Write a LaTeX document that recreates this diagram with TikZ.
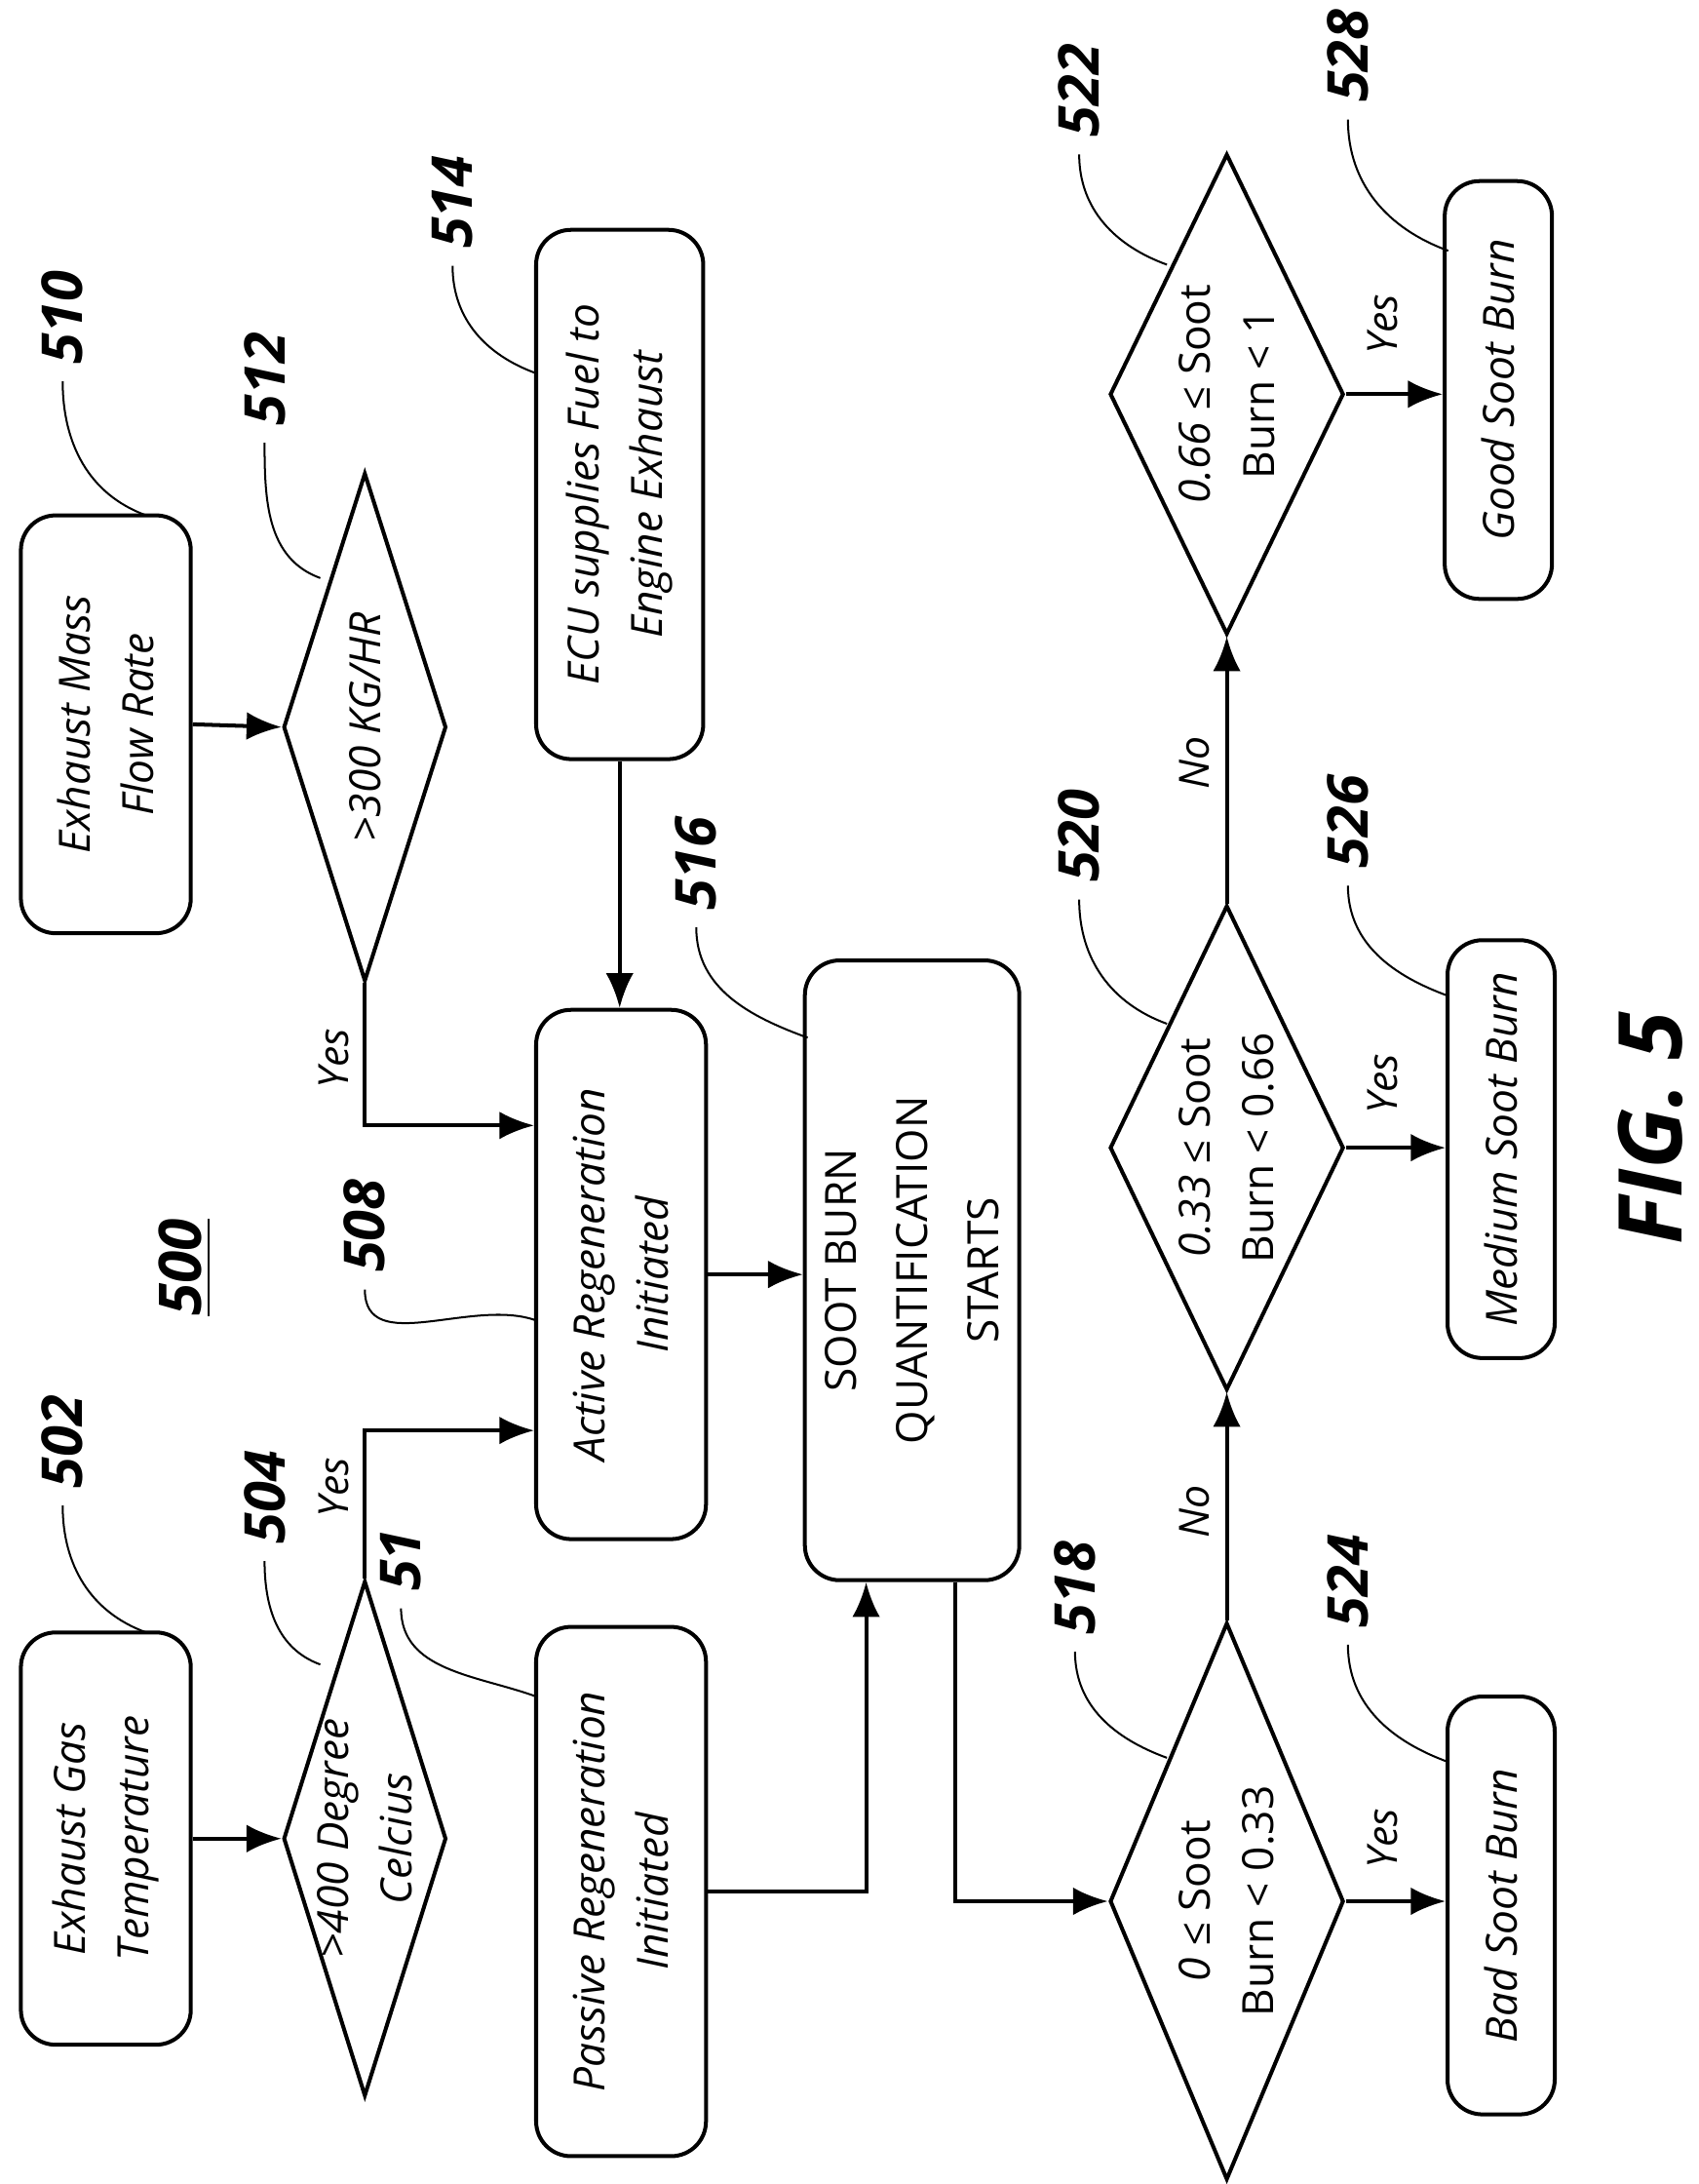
\documentclass[tikz,border=0pt]{standalone}
\usepackage{fontspec}
\setmainfont{Open Sans}
\usetikzlibrary{shapes.geometric,arrows.meta}
\begin{document}
\begin{tikzpicture}[x=0.1mm,y=-0.1mm,
 box/.style={draw,thick,rounded corners=2.5mm,rotate=90,inner sep=0},
 dia/.style={draw,thick,diamond,rotate=90,inner sep=0},
 txt/.style={rotate=90,align=center,font=\fontsize{8.8}{13}\selectfont\itshape},
 num/.style={rotate=90,font=\fontsize{11.5}{13}\selectfont\bfseries\itshape},
 lbl/.style={rotate=90,font=\fontsize{8.5}{10}\selectfont\itshape},
 arr/.style={thick,-{Latex[length=2.5mm,width=2mm]}},
 ln/.style={thick},
 ld/.style={thin}]
\useasboundingbox (0,0) rectangle (1220,1568);
% boxes
\node[box,minimum width=29.6mm,minimum height=12.2mm] (b502) at (76,1320) {};
\node[txt] at (76,1320) {Exhaust Gas\\Temperature};
\node[box,minimum width=30mm,minimum height=12.2mm] (b510) at (76,520) {};
\node[txt] at (76,520) {Exhaust Mass\\Flow Rate};
\node[box,minimum width=38mm,minimum height=12mm] (b514) at (445,355) {};
\node[txt] at (445,355) {ECU supplies Fuel to\\Engine Exhaust};
\node[box,minimum width=38mm,minimum height=12.2mm] (b508) at (446,915) {};
\node[txt] at (446,915) {Active Regeneration\\Initiated};
\node[box,minimum width=38mm,minimum height=12.2mm] (b51) at (446,1358) {};
\node[txt] at (446,1358) {Passive Regeneration\\Initiated};
\node[box,minimum width=44.5mm,minimum height=15.4mm] (b516) at (655,912) {};
\node[txt,font=\fontsize{8.8}{14.5}\selectfont] at (655,912) {SOOT BURN\\QUANTIFICATION\\STARTS};
\node[box,minimum width=30mm,minimum height=7.7mm] (b524) at (1078,1368) {};
\node[txt] at (1078,1368) {Bad Soot Burn};
\node[box,minimum width=30mm,minimum height=7.7mm] (b526) at (1078,825) {};
\node[txt] at (1078,825) {Medium Soot Burn};
\node[box,minimum width=30mm,minimum height=7.7mm] (b528) at (1076,280) {};
\node[txt] at (1076,280) {Good Soot Burn};
% diamonds
\node[dia,minimum width=37mm,minimum height=11.7mm] (d504) at (262,1320) {};
\node[txt] at (262,1320) {>400 Degree\\Celcius};
\node[dia,minimum width=36.5mm,minimum height=11.7mm] (d512) at (262,522) {};
\node[txt] at (262,522) {>300 KG/HR};
\node[dia,minimum width=40mm,minimum height=16.8mm] (d518) at (881,1365) {};
\node[txt] at (881,1365) {\textit{0} ≤ \upshape Soot\\\upshape Burn < 0.33};
\node[dia,minimum width=34.8mm,minimum height=16.8mm] (d520) at (881,824) {};
\node[txt] at (881,824) {\textit{0.33} ≤ \upshape Soot\\\upshape Burn < 0.66};
\node[dia,minimum width=34.5mm,minimum height=16.8mm] (d522) at (881,283) {};
\node[txt] at (881,283) {\textit{0.66} ≤ \upshape Soot\\\upshape Burn < 1};
% connectors
\draw[arr] (b502.south) -- (d504.north);
\draw[arr] (b510.south) -- (d512.north);
\draw[arr] (d504.east) |- (b508.north |- 0,1027);
\draw[arr] (d512.west) |- (b508.north |- 0,808);
\draw[arr] (b514.west) -- (b514.west |- b508.east);
\draw[arr] (b508.south) -- (b508.south -| b516.north);
\draw[arr] (b51.south) -| (622,0 |- b516.west);
\draw[arr] (686,0 |- b516.west) |- (d518.north);
\draw[arr] (d518.east) -- (d520.west);
\draw[arr] (d520.east) -- (d522.west);
\draw[arr] (d518.south) -- (b524.north |- d518.south);
\draw[arr] (d520.south) -- (b526.north |- d520.south);
\draw[arr] (d522.south) -- (b528.north |- d522.south);
% branch labels
\node[lbl] at (240,1068) {Yes};
\node[lbl] at (240,760) {Yes};
\node[lbl] at (858,1085) {No};
\node[lbl] at (858,548) {No};
\node[lbl] at (993,1320) {Yes};
\node[lbl] at (993,778) {Yes};
\node[lbl] at (993,233) {Yes};
% reference numbers
\node[num] (n502) at (45,1035) {502};
\node[num] (n510) at (45,228) {510};
\node[num] (n504) at (190,1075) {504};
\node[num] (n512) at (190,272) {512};
\node[num] (n51) at (288,1120) {51};
\node[num] (n508) at (262,880) {508};
\node[num] (n514) at (325,145) {514};
\node[num] (n516) at (500,620) {516};
\node[num] (n518) at (772,1140) {518};
\node[num] (n520) at (775,600) {520};
\node[num] (n522) at (775,65) {522};
\node[num] (n524) at (968,1135) {524};
\node[num] (n526) at (968,590) {526};
\node[num] (n528) at (968,40) {528};
\coordinate (e502) at (105,1172);
\coordinate (e510) at (105,370);
\coordinate (e504) at (230,1195);
\coordinate (e512) at (230,415);
\coordinate (e51) at (385,1218);
\coordinate (e508) at (385,948);
\coordinate (e514) at (385,268);
\coordinate (e516) at (580,745);
\coordinate (e518) at (838,1262);
\coordinate (e520) at (838,735);
\coordinate (e522) at (838,190);
\coordinate (e524) at (1040,1265);
\coordinate (e526) at (1040,715);
\coordinate (e528) at (1040,180);
\foreach \n in {502,510,504,512,51,508,514,516,518,520,522,524,526,528}
  \draw[ld] (n\n.west) to[out=-90,in=160] (e\n);
% title labels
\node[rotate=90,font=\fontsize{12}{14}\selectfont\bfseries\itshape] at (133,910) {\underline{500}};
\node[rotate=90,font=\fontsize{18}{22}\selectfont\bfseries\itshape] at (1185,810) {FIG. 5};
\end{tikzpicture}
\end{document}
